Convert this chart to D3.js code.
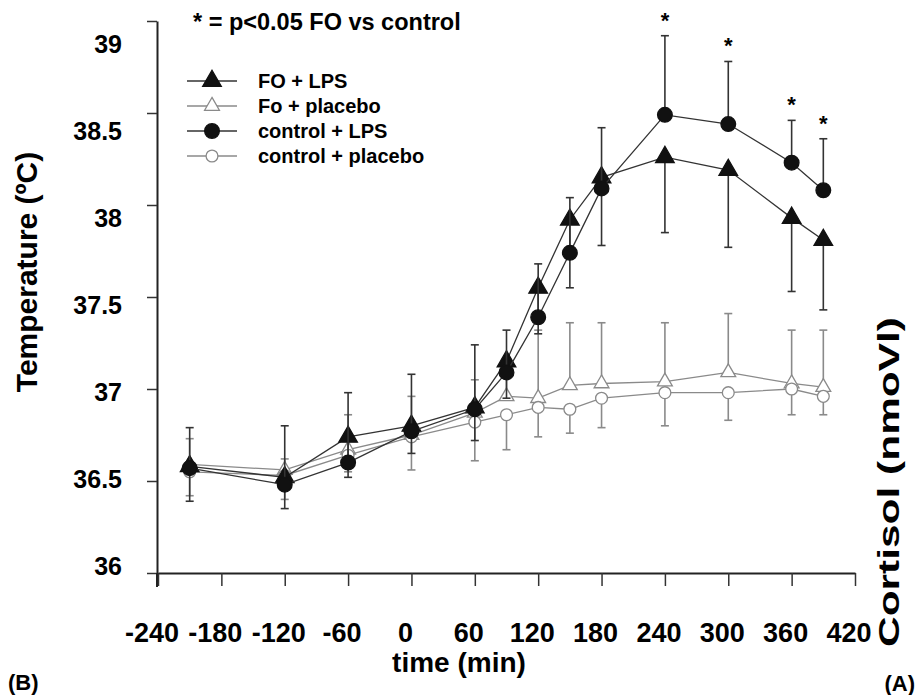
<!DOCTYPE html>
<html>
<head>
<meta charset="utf-8">
<script src="https://cdn.jsdelivr.net/npm/d3@7"></script>
<style>
  body { margin: 0; background: #fff; }
  text { font-family: "Liberation Sans", Arial, sans-serif; font-weight: bold; fill: #000; }
</style>
</head>
<body>
<script>
// time points (min)
var times = [-210, -120, -60, 0, 60, 90, 120, 150, 180, 240, 300, 360, 390];

// mean temperature per group
var foLps       = [36.58, 36.52, 36.74, 36.80, 36.90, 37.15, 37.55, 37.92, 38.15, 38.26, 38.19, 37.93, 37.81];
var foPlacebo   = [36.59, 36.56, 36.67, 36.75, 36.87, 36.96, 36.95, 37.02, 37.03, 37.04, 37.09, 37.03, 37.01];
var ctrlLps     = [36.57, 36.48, 36.60, 36.77, 36.89, 37.09, 37.39, 37.74, 38.09, 38.49, 38.44, 38.23, 38.08];
var ctrlPlacebo = [36.55, 36.53, 36.64, 36.74, 36.82, 36.86, 36.90, 36.89, 36.95, 36.98, 36.98, 37.00, 36.96];

// error bars (one sided, as drawn)
var foLpsErrDown       = [0.19, 0.17, 0.22, 0.15, 0.18, 0.20, 0.25, 0.37, 0.37, 0.41, 0.42, 0.40, 0.38];
var foPlaceboErrUp     = [0.14, 0.06, 0.19, 0.21, 0.18, 0.14, 0.37, 0.34, 0.33, 0.32, 0.32, 0.29, 0.31];
var ctrlLpsErrUp       = [0.22, 0.32, 0.38, 0.31, 0.35, 0.23, 0.29, 0.30, 0.33, 0.43, 0.34, 0.23, 0.28];
var ctrlPlaceboErrDown = [0.13, 0.13, 0.09, 0.18, 0.21, 0.19, 0.16, 0.13, 0.16, 0.18, 0.15, 0.14, 0.10];

// significance marks
var starTimes = [240, 300, 360, 390];

var xTicks = [-240, -180, -120, -60, 0, 60, 120, 180, 240, 300, 360, 420];
var yTicks = [36, 36.5, 37, 37.5, 38, 38.5, 39];

var legendNames = ["FO + LPS", "Fo + placebo", "control + LPS", "control + placebo"];

var width = 917,
    height = 695;

var svg = d3.select("body").append("svg")
    .attr("width", width)
    .attr("height", height);

var x = d3.scaleLinear().domain([-240, 420]).range([158, 855]);
var y = d3.scaleLinear().domain([36, 39]).range([573, 21]);
// tick labels in the source sit on a slightly squeezed scale
var yLab = d3.scaleLinear().domain([36, 39]).range([566, 44]);

// groups, placebo drawn first so LPS ends on top
var series = [
  { name: legendNames[1], vals: foPlacebo,   err: foPlaceboErrUp,     dir: 1,  sym: d3.symbolTriangle, fill: "#fff", stroke: "#8a8a8a", line: "#8a8a8a", size: 95 },
  { name: legendNames[3], vals: ctrlPlacebo, err: ctrlPlaceboErrDown, dir: -1, sym: d3.symbolCircle,   fill: "#fff", stroke: "#8a8a8a", line: "#8a8a8a", size: 110 },
  { name: legendNames[0], vals: foLps,       err: foLpsErrDown,       dir: -1, sym: d3.symbolTriangle, fill: "#111", stroke: "#111", line: "#333", size: 150 },
  { name: legendNames[2], vals: ctrlLps,     err: ctrlLpsErrUp,       dir: 1,  sym: d3.symbolCircle,   fill: "#111", stroke: "#111", line: "#333", size: 170 }
];

// axes
var xAxis = svg.append("g")
    .attr("transform", "translate(0,573)")
    .call(d3.axisBottom(x).tickValues(xTicks).tickSize(13).tickSizeOuter(0).tickFormat(""));
var yAxis = svg.append("g")
    .attr("transform", "translate(157,0)")
    .call(d3.axisLeft(y).tickValues(yTicks).tickSize(10).tickSizeOuter(0).tickFormat(""));
svg.selectAll(".domain").attr("stroke", "#222").attr("stroke-width", 2);
svg.selectAll(".tick line").attr("stroke", "#333").attr("stroke-width", 1.5);

// y axis runs a little past the x axis
svg.append("line")
    .attr("x1", 157).attr("x2", 157)
    .attr("y1", y(36)).attr("y2", y(36) + 14)
    .attr("stroke", "#222").attr("stroke-width", 2);

svg.selectAll(".xlab")
    .data(xTicks)
  .enter().append("text")
    .attr("class", "xlab")
    .attr("x", function(d) { return x(d) - 6; })
    .attr("y", 642)
    .attr("text-anchor", "middle")
    .style("font-size", "27px")
    .text(function(d) { return d; });

svg.selectAll(".ylab")
    .data(yTicks)
  .enter().append("text")
    .attr("class", "ylab")
    .attr("x", 122)
    .attr("y", function(d) { return yLab(d); })
    .attr("dy", "0.36em")
    .attr("text-anchor", "end")
    .style("font-size", "25px")
    .text(function(d) { return d; });

// lines
var line = d3.line()
    .x(function(d) { return x(d.t); })
    .y(function(d) { return y(d.v); });

series.forEach(function(s) {
  var pts = times.map(function(t, i) { return { t: t, v: s.vals[i], e: s.err[i] }; });
  var g = svg.append("g");

  g.append("path")
      .datum(pts)
      .attr("d", line)
      .attr("fill", "none")
      .attr("stroke", s.line)
      .attr("stroke-width", 1.3);

  // error bars
  g.selectAll(".err")
      .data(pts)
    .enter().append("line")
      .attr("x1", function(d) { return x(d.t); })
      .attr("x2", function(d) { return x(d.t); })
      .attr("y1", function(d) { return y(d.v); })
      .attr("y2", function(d) { return y(d.v + s.dir * d.e); })
      .attr("stroke", s.line)
      .attr("stroke-width", 1.6);
  g.selectAll(".cap")
      .data(pts)
    .enter().append("line")
      .attr("x1", function(d) { return x(d.t) - 4; })
      .attr("x2", function(d) { return x(d.t) + 4; })
      .attr("y1", function(d) { return y(d.v + s.dir * d.e); })
      .attr("y2", function(d) { return y(d.v + s.dir * d.e); })
      .attr("stroke", s.line)
      .attr("stroke-width", 1.6);

  g.selectAll(".pt")
      .data(pts)
    .enter().append("path")
      .attr("transform", function(d) { return "translate(" + x(d.t) + "," + y(d.v) + ")"; })
      .attr("d", d3.symbol().type(s.sym).size(s.size))
      .attr("fill", s.fill)
      .attr("stroke", s.stroke)
      .attr("stroke-width", 1.3);
});

// stars above the control + LPS bars
svg.selectAll(".star")
    .data(starTimes)
  .enter().append("text")
    .attr("x", function(d) { return x(d); })
    .attr("y", function(d) {
      var i = times.indexOf(d);
      return y(ctrlLps[i] + ctrlLpsErrUp[i]) - 8;
    })
    .attr("text-anchor", "middle")
    .style("font-size", "22px")
    .text("*");

// legend
var legendOrder = [series[2], series[0], series[3], series[1]];
var leg = svg.selectAll(".leg")
    .data(legendOrder)
  .enter().append("g")
    .attr("transform", function(d, i) { return "translate(187," + (81 + i * 25) + ")"; });
leg.append("line")
    .attr("x1", 0).attr("x2", 50)
    .attr("stroke", function(d) { return d.line; })
    .attr("stroke-width", 1.5);
leg.append("path")
    .attr("transform", "translate(25,0)")
    .attr("d", function(d) { return d3.symbol().type(d.sym).size(d.size)(); })
    .attr("fill", function(d) { return d.fill; })
    .attr("stroke", function(d) { return d.stroke; })
    .attr("stroke-width", 1.3);
leg.append("text")
    .attr("x", 71)
    .attr("dy", "0.36em")
    .style("font-size", "20px")
    .text(function(d) { return d.name; });

svg.append("text")
    .attr("x", 193).attr("y", 30)
    .style("font-size", "23.5px")
    .text("* = p<0.05 FO vs control");

// axis titles
svg.append("text")
    .attr("transform", "translate(37,272) rotate(-90)")
    .attr("text-anchor", "middle")
    .style("font-size", "30px")
    .text("Temperature (ºC)");

// the right-hand title is stretched along its length in the source
svg.append("text")
    .attr("transform", "translate(899,482) rotate(-90)")
    .attr("text-anchor", "middle")
    .attr("textLength", 330)
    .attr("lengthAdjust", "spacingAndGlyphs")
    .style("font-size", "30px")
    .text("Cortisol (nmoVl)");

svg.append("text")
    .attr("x", 459).attr("y", 672)
    .attr("text-anchor", "middle")
    .style("font-size", "28px")
    .text("time (min)");

svg.append("text")
    .attr("x", 8).attr("y", 690)
    .style("font-size", "22px")
    .text("(B)");

svg.append("text")
    .attr("x", 915).attr("y", 691)
    .attr("text-anchor", "end")
    .style("font-size", "22px")
    .text("(A)");
</script>
</body>
</html>
